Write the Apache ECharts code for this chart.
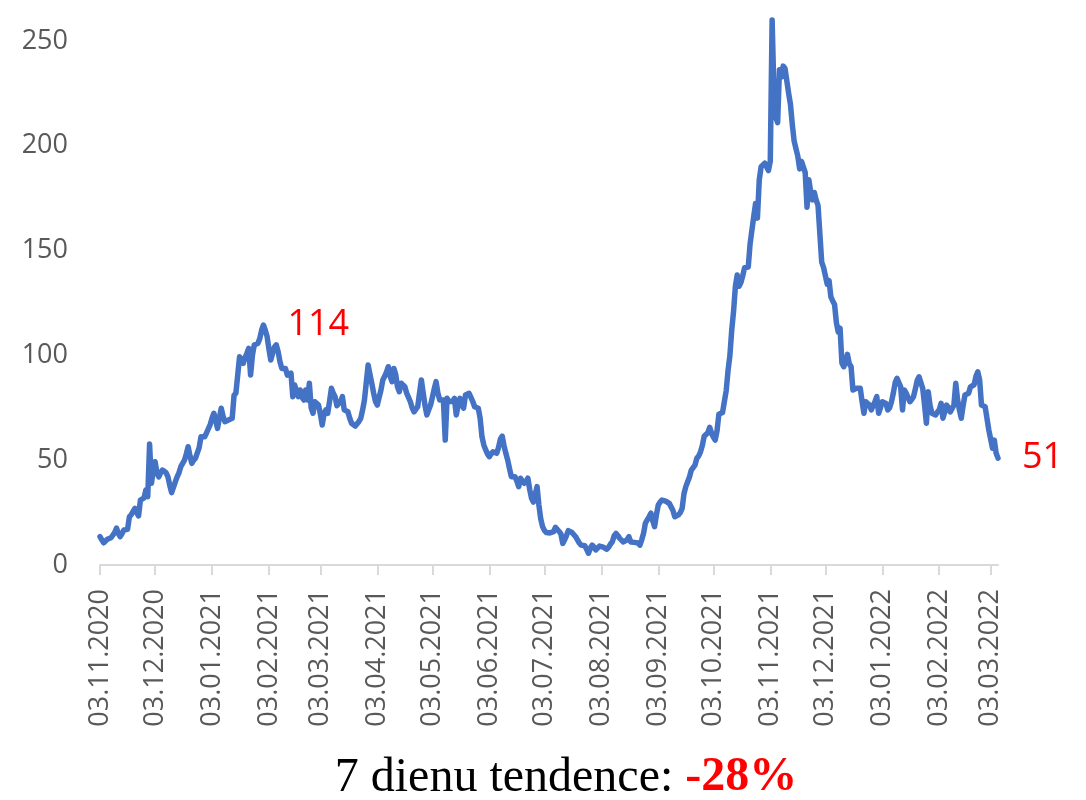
<!DOCTYPE html>
<html lang="lv">
<head>
	<meta charset="UTF-8">
	<title>7 dienu tendence</title>
	<style>
		html, body { margin: 0; padding: 0; background: #fff; }
		#main { width: 1086px; height: 800px; }
	</style>
</head>
<body>
	<div id="main"></div>
	<script src="https://cdn.jsdelivr.net/npm/echarts@6/dist/echarts.min.js"></script>
	<script>
		// pirmā diena un dienu skaits
		var startDay = [2020, 10, 3];
		var dayCount = 490;

		// dienas vērtības, nolasītas no attēla (03.11.2020 - 07.03.2022)
		var values = [
			13.5, 12, 10.6, 11.5, 12.3, 12.5, 13, 13.3, 15.5, 17.6,
			15, 13.5, 15, 16.7, 16.5, 17, 23, 24, 24.8, 27,
			25, 23.4, 31, 31.5, 32, 35.8, 32.6, 57.7, 39, 45,
			49.3, 44, 42, 44, 45.3, 45, 44, 42, 38, 34.5,
			37, 39.7, 42, 44, 46.9, 47.7, 50, 53, 56.4, 52,
			48.5, 50, 51, 51.7, 56, 61.2, 61, 61.2, 63, 65,
			67, 70, 72.4, 69, 65.2, 70, 74.8, 71, 68.4, 69,
			69.2, 69.2, 70, 81, 82, 82.7, 99.4, 98, 96.2, 99,
			101, 103.4, 90.6, 100, 105, 105.2, 105.8, 108, 112, 114.5,
			112, 109, 103, 97.8, 101, 104, 105, 101.8, 97, 93.8,
			93.8, 93.8, 90.6, 91, 91.5, 80.3, 85.9, 83, 80.3, 83.5,
			80, 78.7, 83.5, 78.7, 86.7, 75, 72.4, 77.9, 77, 76.3,
			72, 66.8, 72, 74, 72.4, 78, 84.3, 82, 80.3, 76,
			75.5, 78, 80.3, 74, 73.5, 73.1, 70, 67.6, 67, 66.3,
			67, 68.5, 70, 74, 78.7, 87, 95.4, 91, 86.7, 82,
			78, 76.3, 80, 83.5, 88.3, 90, 92, 94.6, 90, 87.5,
			93.8, 91, 85, 82.7, 86.7, 86, 85, 82, 80, 77.9,
			75, 73.1, 74, 75.5, 82, 88.3, 82, 76, 71.6, 74,
			76.3, 80, 84, 87.5, 82, 78.7, 79, 78.7, 59.6, 79.5,
			78, 77.1, 78, 79.5, 71.6, 76, 79.5, 77, 74.8, 81.1,
			81.5, 81.9, 81, 78, 75.5, 75, 74.8, 70, 61.2, 57.3,
			55, 53, 51.7, 53, 54, 53.5, 53.3, 56, 60, 61.5,
			57, 53.3, 50.1, 46, 42.1, 42.1, 42.1, 40, 37.4, 41.4,
			40, 39, 40, 41.4, 36, 31.8, 30, 29.4, 37.4, 28.6,
			22, 18.3, 16.5, 15.5, 15.1, 15.3, 15.5, 15.9, 18, 18.6,
			16, 14.8, 10.3, 12, 14, 16.4, 16, 15.5, 15.1, 13.5,
			12, 10.5, 9.5, 9.3, 9.2, 7.5, 5.6, 8, 9.5, 8.5,
			7.2, 8, 9, 9.5, 8.5, 8, 7.5, 8.5, 10, 11.1,
			14, 15.1, 14, 12.7, 12, 11, 10.3, 12, 13.5, 11,
			10.3, 10.8, 11.1, 10.5, 9.5, 12, 15.1, 20, 21.5, 23,
			24.7, 21, 18.3, 24, 28.6, 30, 31, 30.5, 30.5, 30.2,
			29.4, 29, 26, 23, 23.5, 23.9, 25, 27, 34, 37.4,
			39.7, 42, 45.3, 46.5, 47.7, 50.9, 52, 54, 57, 61.4,
			62, 63.1, 65.7, 63, 61, 59.6, 64, 71.9, 72, 72.7,
			78, 83.2, 92.8, 99.9, 112, 120.9, 133, 138.4, 133, 134.8,
			138, 141.8, 142, 142.2, 153.2, 153.2, 166.3, 172.5, 165.5, 183.8,
			190, 190.5, 191.7, 190, 188.2, 192.6, 260, 225, 213.6, 211,
			236.3, 232.8, 238, 237, 236.3, 225, 219.7, 210, 202.2, 203.1,
			195, 189, 192.6, 190, 187.3, 170.7, 183.8, 178, 174.2, 177.7,
			174, 171.6, 170.7, 144.5, 142, 141.8, 134, 135.7, 127.9, 126,
			124.3, 115.6, 111.2, 113, 96.4, 94.6, 97, 100.5, 96, 94.6,
			83.5, 84, 84.3, 84.3, 84.3, 78, 72.4, 77.9, 77.9, 76.3,
			74, 76, 78, 80.3, 72.4, 75, 77.9, 77.5, 77.1, 74,
			75, 77.9, 82, 87, 89.1, 87, 85, 74, 83.5, 82,
			81.1, 77.9, 79, 80.3, 84, 88, 89.8, 87, 84.3, 76.3,
			67.6, 82.7, 76, 72.4, 72, 71.6, 73, 74, 77.1, 70,
			73, 76.3, 75, 73, 72.4, 76.3, 86.7, 78.7, 74, 70,
			76, 81.1, 81.5, 81.9, 85, 84.3, 86, 90, 92.2, 88.3,
			76.3, 76, 75.5, 74.8, 64.4, 63.6, 55.7, 59.6, 53.3, 51
		];

		// sarkanās atzīmes: dienas indekss un teksts
		var noteIndex = [89, 366, 489];
		var noteText = ['114', '260', '51'];

		var trendLabel = '7 dienu tendence: ';
		var trendValue = '-28%';

		function pad(n) { return n < 10 ? '0' + n : '' + n; }

		var dates = [];
		var t0 = Date.UTC(startDay[0], startDay[1], startDay[2]);
		for (var i = 0; i < dayCount; i++) {
			var d = new Date(t0 + i * 86400000);
			dates.push(pad(d.getUTCDate()) + '.' + pad(d.getUTCMonth() + 1) + '.' + d.getUTCFullYear());
		}

		function isTickDay(index, value) {
			return value.slice(0, 3) === '03.';
		}

		var notes = noteIndex.map(function (idx, k) {
			return { coord: [idx, values[idx]], value: noteText[k] };
		});

		var myChart = echarts.init(document.getElementById('main'));

		myChart.setOption({
			animation: false,
			grid: { left: 100, right: 88, top: 41, bottom: 235 },
			xAxis: {
				type: 'category',
				data: dates,
				boundaryGap: false,
				axisLine: { show: true, lineStyle: { color: '#d9d9d9', width: 2 } },
				axisTick: { show: true, interval: isTickDay, length: 10, lineStyle: { color: '#d9d9d9', width: 2 } },
				axisLabel: {
					interval: isTickDay,
					rotate: 90,
					margin: 24,
					color: '#595959',
					fontSize: 27,
					fontFamily: 'Open Sans'
				},
				splitLine: { show: false }
			},
			yAxis: {
				type: 'value',
				min: 0,
				max: 250,
				interval: 50,
				axisLine: { show: false },
				axisTick: { show: false },
				splitLine: { show: false },
				axisLabel: { color: '#595959', fontSize: 27, fontFamily: 'Open Sans', margin: 32 }
			},
			series: [{
				type: 'line',
				data: values,
				clip: false,
				symbol: 'none',
				lineStyle: { color: '#4472C4', width: 5.5, cap: 'round', join: 'round' },
				markPoint: {
					symbol: 'circle',
					symbolSize: 0,
					label: {
						show: true,
						position: 'right',
						distance: 24,
						color: '#ff0000',
						fontSize: 36,
						fontFamily: 'Open Sans',
						formatter: function (p) { return p.value; }
					},
					data: notes
				}
			}],
			graphic: [{
				type: 'text',
				x: 566,
				y: 778,
				style: {
					text: '{a|' + trendLabel + '}{b|' + trendValue + '}',
					align: 'center',
					verticalAlign: 'middle',
					rich: {
						a: { fontFamily: 'Liberation Serif', fontSize: 48, fill: '#000' },
						b: { fontFamily: 'Liberation Serif', fontSize: 48, fontWeight: 'bold', fill: '#ff0000' }
					}
				}
			}]
		});
	</script>
</body>
</html>
